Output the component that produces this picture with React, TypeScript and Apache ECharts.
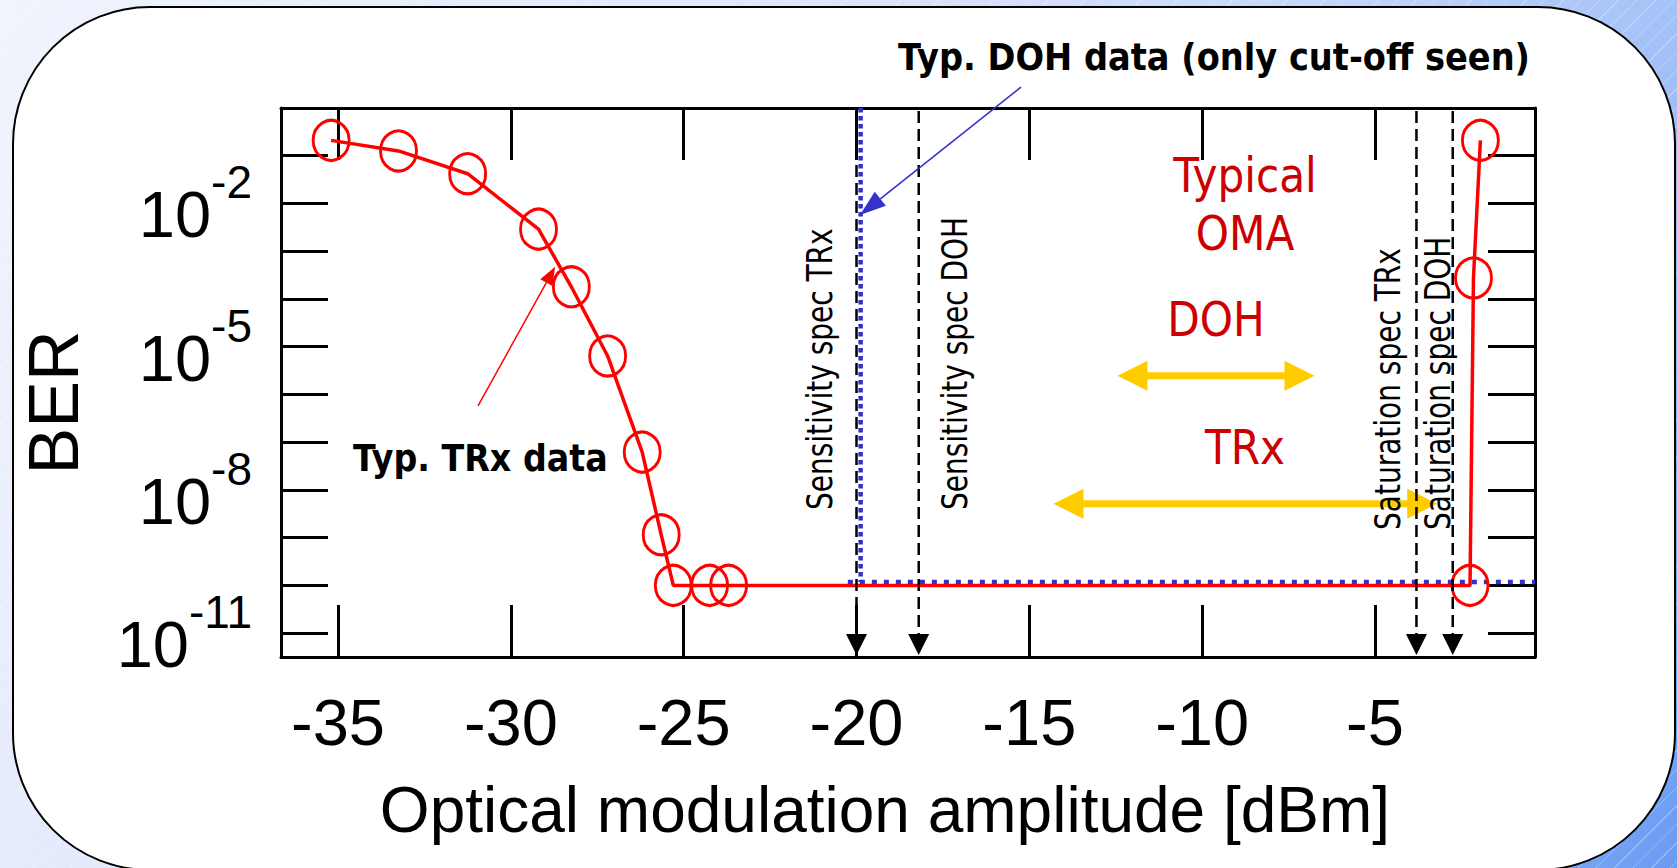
import React, { useEffect, useRef } from 'react';
import * as echarts from 'echarts';

// Typical transceiver (TRx) measurement: BER versus optical modulation amplitude
const TRX_OMA_DBM = [-35.2, -33.25, -31.25, -29.2, -28.25, -27.2, -26.2, -25.65, -25.3, -24.25, -23.7, -2.25, -2.15, -1.95];
const TRX_BER = [2.1e-1, 1.26e-1, 4.2e-2, 2.9e-3, 1.8e-4, 6.4e-6, 6.2e-8, 1.15e-9, 1e-10, 1e-10, 1e-10, 1e-10, 2.75e-4, 2.1e-1];

// Typical DOH data: only the sensitivity cut-off and the error floor are visible
const DOH_CUTOFF_DBM = -19.88;
const DOH_FLOOR_START_DBM = -20.25;
const DOH_FLOOR_BER = 1.18e-10;

// Specification limits, drawn as dashed markers ending in an arrow
const SPEC_DBM = [-20, -18.2, -3.8, -2.75];
const SPEC_NAMES = ['Sensitivity spec TRx', 'Sensitivity spec DOH', 'Saturation spec TRx', 'Saturation spec DOH'];

// Typical OMA operating ranges [from, to] and the BER level they sit at
const OMA_RANGE_DOH = [-12.45, -6.75];
const OMA_RANGE_DOH_BER = 2.45e-6;
const OMA_RANGE_TRX = [-14.3, -3.2];
const OMA_RANGE_TRX_BER = 5.1e-9;

// Pointer arrows of the two callouts: [fromDbm, fromBer, toDbm, toBer]
const TRX_NOTE_ARROW = [-30.95, 5.75e-7, -28.72, 4.7e-4];
const DOH_NOTE_ARROW = [-15.24, 2.75, -19.9, 5.75e-3];

const X_TICK_LABELS = [-35, -30, -25, -20, -15, -10, -5];
const Y_LABEL_EXPONENTS = [-2, -5, -8, -11];

const X_MIN = -36.65;
const X_MAX = -0.37;
const Y_MIN = -11.5; // log10(BER)
const Y_MAX = 0;

const ARIAL = "'Liberation Sans', Arial, Helvetica, sans-serif";
const SANS = "'DejaVu Sans', Verdana, sans-serif";
const RED = '#ff0000';
const DARK_RED = '#cc0000';
const BLUE = '#3333cc';
const YELLOW = '#ffcc00';

const lg = (v: number) => Math.log10(v);
const near = (list: number[], v: number) => list.some((t) => Math.abs(t - v) < 1e-6);

function arrowSeries(data: number[], color: string, head: number, half: number, width: number) {
  return {
    type: 'custom',
    z: 6,
    silent: true,
    data: [[data[0], lg(data[1]), data[2], lg(data[3])]],
    encode: { x: [0, 2], y: [1, 3] },
    renderItem: (_p: any, api: any) => {
      const p = api.coord([api.value(0), api.value(1)]);
      const q = api.coord([api.value(2), api.value(3)]);
      const dx = q[0] - p[0];
      const dy = q[1] - p[1];
      const len = Math.hypot(dx, dy);
      const ux = dx / len;
      const uy = dy / len;
      const bx = q[0] - ux * head;
      const by = q[1] - uy * head;
      return {
        type: 'group',
        children: [
          { type: 'line', shape: { x1: p[0], y1: p[1], x2: bx, y2: by }, style: { stroke: color, lineWidth: width } },
          {
            type: 'polygon',
            shape: { points: [[q[0], q[1]], [bx - uy * half, by + ux * half], [bx + uy * half, by - ux * half]] },
            style: { fill: color },
          },
        ],
      };
    },
  };
}

function label(text: string, x: number, y: number, opts: any) {
  return {
    type: 'text',
    x,
    y,
    z: 20,
    silent: true,
    rotation: opts.rotation || 0,
    scaleX: opts.scaleX || 1,
    style: {
      text,
      fill: opts.color || '#000',
      fontFamily: opts.fontFamily || SANS,
      fontSize: opts.fontSize,
      fontWeight: opts.fontWeight || 'normal',
      align: opts.align || 'center',
      verticalAlign: 'middle',
    },
  };
}

export default function App() {
  const ref = useRef<HTMLDivElement>(null);

  useEffect(() => {
    document.body.style.margin = '0';
    const chart = echarts.init(ref.current!, undefined, { renderer: 'svg' });

    const axisLine = { show: true, onZero: false, lineStyle: { color: '#000', width: 3 } };
    const xBase = {
      type: 'value',
      min: X_MIN,
      max: X_MAX,
      splitNumber: 7,
      minInterval: 5,
      maxInterval: 5,
      axisLine,
      axisTick: { show: true, inside: true, length: 52, lineStyle: { color: '#000', width: 3 } },
      splitLine: { show: false },
    };
    const yBase = {
      type: 'value',
      min: Y_MIN,
      max: Y_MAX,
      splitNumber: 11,
      minInterval: 1,
      maxInterval: 1,
      axisLine,
      axisTick: { show: true, inside: true, length: 47, lineStyle: { color: '#000', width: 3 } },
      splitLine: { show: false },
    };

    // start (lower end) of each rotated spec label
    const specLabelPos = [
      [820, 510],
      [955, 510],
      [1388, 530],
      [1438, 530],
    ];

    chart.setOption({
      animation: false,
      backgroundColor: 'transparent',
      grid: { left: 281, top: 108, width: 1254, height: 549, outerBoundsMode: 'none' },
      xAxis: [
        {
          ...xBase,
          position: 'bottom',
          axisLabel: {
            show: true,
            margin: 33,
            color: '#000',
            fontFamily: ARIAL,
            fontSize: 65,
            formatter: (v: number) => (near(X_TICK_LABELS, v) ? String(Math.round(v)) : ''),
          },
          name: 'Optical modulation amplitude [dBm]',
          nameLocation: 'middle',
          nameGap: 121,
          nameTextStyle: { color: '#000', fontFamily: ARIAL, fontSize: 64, padding: [0, 46, 0, 0] },
        },
        { ...xBase, position: 'top', axisLabel: { show: false } },
      ],
      yAxis: [
        {
          ...yBase,
          position: 'left',
          axisLabel: {
            show: true,
            margin: 29,
            formatter: (v: number) =>
              near(Y_LABEL_EXPONENTS, v) ? `{pad| }{base|10}{exp|${Math.round(v)}}` : '',
            rich: {
              pad: { fontSize: 1, lineHeight: 88 },
              base: { fontSize: 65, lineHeight: 68, fontFamily: ARIAL, color: '#000', verticalAlign: 'bottom' },
              exp: { fontSize: 46, lineHeight: 46, fontFamily: ARIAL, color: '#000', verticalAlign: 'top' },
            },
          },
          name: 'BER',
          nameLocation: 'middle',
          nameGap: 192,
          nameRotate: 90,
          nameTextStyle: { color: '#000', fontFamily: ARIAL, fontSize: 70, padding: [0, 40, 0, 0] },
        },
        { ...yBase, position: 'right', axisLabel: { show: false } },
      ],
      graphic: [
        {
          type: 'rect',
          z: -10,
          silent: true,
          shape: { x: 13, y: 7, width: 1662, height: 863, r: 137 },
          style: { fill: '#ffffff', stroke: '#000000', lineWidth: 2 },
        },
        ...SPEC_NAMES.map((name, i) =>
          label(name, specLabelPos[i][0], specLabelPos[i][1], {
            fontSize: 35,
            scaleX: 0.8,
            rotation: Math.PI / 2,
            align: 'left',
          })
        ),
        label('Typ. DOH data (only cut-off seen)', 898, 57, { fontSize: 37, fontWeight: 'bold', scaleX: 0.91, align: 'left' }),
        label('Typ. TRx data', 353, 458, { fontSize: 37, fontWeight: 'bold', scaleX: 0.9, align: 'left' }),
        label('Typical', 1245, 176, { fontSize: 48, scaleX: 0.88, color: DARK_RED }),
        label('OMA', 1245, 234, { fontSize: 48, scaleX: 0.88, color: DARK_RED }),
        label('DOH', 1216, 320, { fontSize: 48, scaleX: 0.88, color: DARK_RED }),
        label('TRx', 1245, 448, { fontSize: 48, scaleX: 0.88, color: DARK_RED }),
      ],
      series: [
        {
          name: 'DOH cut-off',
          type: 'line',
          z: 2,
          symbol: 'none',
          data: [
            [DOH_CUTOFF_DBM, Y_MAX],
            [DOH_CUTOFF_DBM, lg(DOH_FLOOR_BER)],
          ],
          lineStyle: { color: BLUE, width: 4.5, type: [4.5, 3.5] },
        },
        {
          name: 'DOH floor',
          type: 'line',
          z: 2,
          symbol: 'none',
          data: [
            [DOH_FLOOR_START_DBM, lg(DOH_FLOOR_BER)],
            [X_MAX, lg(DOH_FLOOR_BER)],
          ],
          lineStyle: { color: BLUE, width: 4.5, type: [5, 7] },
        },
        {
          name: 'Typ. TRx data',
          type: 'line',
          z: 3,
          data: TRX_OMA_DBM.map((x, i) => [x, lg(TRX_BER[i])]),
          symbol: 'circle',
          symbolSize: [36, 40],
          itemStyle: { color: 'rgba(0,0,0,0)', borderColor: RED, borderWidth: 3 },
          lineStyle: { color: RED, width: 3.5 },
        },
        {
          name: 'Specs',
          type: 'custom',
          z: 5,
          silent: true,
          data: SPEC_DBM.map((x) => [x, Y_MAX]),
          encode: { x: 0, y: 1 },
          renderItem: (_p: any, api: any) => {
            const x = api.value(0);
            const top = api.coord([x, Y_MAX]);
            const bottom = api.coord([x, Y_MIN]);
            const tip = bottom[1] - 2;
            const headH = 21;
            const half = 10.5;
            return {
              type: 'group',
              children: [
                {
                  type: 'line',
                  shape: { x1: top[0], y1: top[1] + 3, x2: top[0], y2: tip - headH + 1 },
                  style: { stroke: '#000', lineWidth: 2.5, lineDash: [12, 6] },
                },
                {
                  type: 'polygon',
                  shape: { points: [[top[0] - half, tip - headH], [top[0] + half, tip - headH], [top[0], tip]] },
                  style: { fill: '#000' },
                },
              ],
            };
          },
        },
        {
          name: 'Typical OMA',
          type: 'custom',
          z: 4,
          silent: true,
          data: [
            [OMA_RANGE_DOH[0], OMA_RANGE_DOH[1], lg(OMA_RANGE_DOH_BER)],
            [OMA_RANGE_TRX[0], OMA_RANGE_TRX[1], lg(OMA_RANGE_TRX_BER)],
          ],
          encode: { x: [0, 1], y: 2 },
          renderItem: (_p: any, api: any) => {
            const y = api.value(2);
            const a = api.coord([api.value(0), y]);
            const b = api.coord([api.value(1), y]);
            const head = 30;
            const half = 15;
            const shaft = 3.5;
            return {
              type: 'group',
              children: [
                {
                  type: 'rect',
                  shape: { x: a[0] + head - 1, y: a[1] - shaft, width: b[0] - a[0] - 2 * head + 2, height: 2 * shaft },
                  style: { fill: YELLOW },
                },
                { type: 'polygon', shape: { points: [[a[0], a[1]], [a[0] + head, a[1] - half], [a[0] + head, a[1] + half]] }, style: { fill: YELLOW } },
                { type: 'polygon', shape: { points: [[b[0], b[1]], [b[0] - head, b[1] - half], [b[0] - head, b[1] + half]] }, style: { fill: YELLOW } },
              ],
            };
          },
        },
        arrowSeries(TRX_NOTE_ARROW, RED, 18, 7, 1.5),
        arrowSeries(DOH_NOTE_ARROW, BLUE, 26, 9, 1.6),
      ],
    });

    return () => chart.dispose();
  }, []);

  return (
    <div
      ref={ref}
      style={{
        width: 1677,
        height: 868,
        background:
          'repeating-linear-gradient(135deg, rgba(255,255,255,0.28) 0px, rgba(255,255,255,0.28) 1px, rgba(255,255,255,0) 1px, rgba(255,255,255,0) 13px), linear-gradient(120deg, #f1f4fd 0%, #dfe7fb 35%, #c6d6f9 60%, #9fbef7 80%, #6a9cf3 100%)',
      }}
    />
  );
}
